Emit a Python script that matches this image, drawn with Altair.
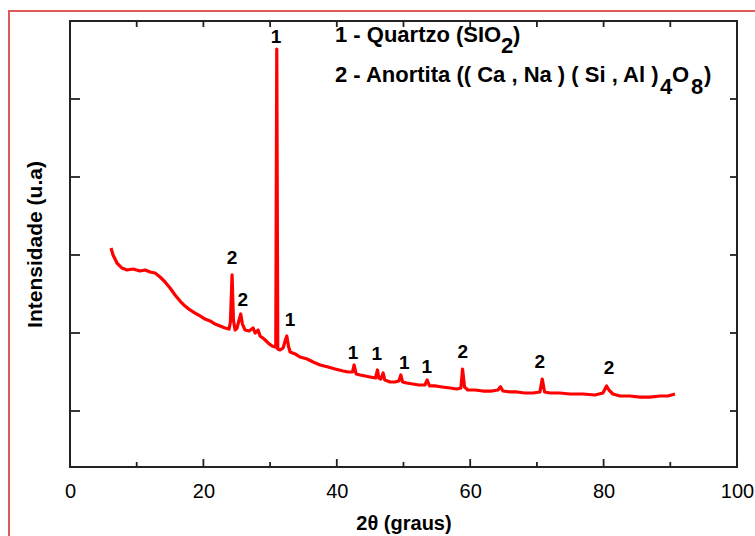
import altair as alt
import pandas as pd

FONT = "Liberation Sans"
RED = "#ff0000"
FRAME = "#222222"

# Difractograma: 2θ (graus) e intensidade (u.a)
two_theta = [
    6.15, 6.45, 7.05, 7.8, 8.55, 9.45, 10.5, 11.25, 12.0, 12.75,
    13.5, 14.25, 15.0, 15.75, 16.5, 17.25, 18.0, 18.75, 19.5, 20.25,
    21.0, 21.75, 22.5, 23.25, 23.85, 24.05, 24.3, 24.5, 24.75, 25.05,
    25.35, 25.6, 25.85, 26.25, 26.85, 27.45, 27.75, 28.2, 28.5, 29.1,
    29.7, 30.3, 30.75, 30.85, 31.0, 31.15, 31.5, 31.95, 32.3, 32.5,
    32.75, 33.0, 33.75, 34.5, 35.55, 36.45, 37.5, 38.7, 39.75, 40.95,
    41.7, 42.35, 42.6, 42.9, 43.5, 44.25, 45.0, 45.8, 46.1, 46.3,
    46.6, 46.95, 47.2, 48.0, 48.7, 49.3, 49.6, 49.85, 50.5, 51.4,
    52.3, 53.2, 53.55, 53.9, 54.7, 55.8, 57.0, 58.0, 58.6, 58.85,
    59.15, 59.65, 60.7, 61.9, 63.25, 64.15, 64.55, 64.9, 66.0, 67.0,
    68.2, 69.4, 70.45, 70.8, 71.15, 72.0, 73.45, 74.95, 76.9, 78.7,
    79.9, 80.45, 80.8, 81.4, 82.45, 83.95, 85.45, 86.95, 88.45, 89.65,
    90.7,
]
intensity = [
    3090, 3000, 2897, 2833, 2808, 2820, 2795, 2808, 2782, 2769,
    2718, 2654, 2577, 2487, 2410, 2346, 2295, 2256, 2218, 2179,
    2154, 2115, 2090, 2064, 2051, 2141, 2744, 2167, 2038, 2064,
    2167, 2244, 2115, 2038, 2026, 2064, 2000, 2038, 1962, 1923,
    1872, 1833, 1820, 1820, 5641, 1795, 1782, 1808, 1910, 1962,
    1833, 1756, 1731, 1692, 1667, 1628, 1590, 1564, 1538, 1513,
    1500, 1500, 1590, 1474, 1462, 1449, 1436, 1423, 1526, 1423,
    1410, 1487, 1397, 1372, 1372, 1385, 1462, 1372, 1359, 1346,
    1333, 1333, 1397, 1321, 1321, 1308, 1295, 1282, 1295, 1538,
    1308, 1269, 1269, 1256, 1256, 1269, 1312, 1256, 1244, 1244,
    1231, 1231, 1244, 1410, 1244, 1231, 1231, 1218, 1218, 1205,
    1231, 1321, 1269, 1218, 1192, 1192, 1179, 1179, 1192, 1192,
    1218,
]
assert len(two_theta) == len(intensity)

# Identificação das fases: 1 = quartzo, 2 = anortita
peak_label = ["1", "2", "2", "1", "1", "1", "1", "1", "2", "2", "2"]
peak_label_x = [30.9, 24.3, 25.9, 33.0, 42.45, 46.0, 50.1, 53.5, 58.9, 70.45, 80.8]
peak_label_y = [5795, 2961, 2423, 2167, 1744, 1731, 1615, 1564, 1756, 1628, 1551]

x_ticks_major = [0, 20, 40, 60, 80, 100]
x_ticks_minor = [10, 30, 50, 70, 90]
x_ticks_top = [10, 20, 30, 40, 50, 60, 70, 80, 90]
y_ticks = [1000, 2000, 3000, 4000, 5000]

W, H = 667, 446
x_scale = alt.Scale(domain=[0, 100], nice=False, zero=False)
y_scale = alt.Scale(domain=[282, 6000], nice=False, zero=False)

# One axis definition per channel, shared by every layer so they merge cleanly
x_axis = alt.Axis(
    values=x_ticks_major, tickSize=0, domain=False, grid=False,
    labelFontSize=20, labelPadding=14, labelFlush=False, labelOverlap=False,
    labelColor="black", labelFont=FONT,
    title="2θ (graus)", titleFontSize=20, titleFontWeight="bold",
    titleFont=FONT, titleColor="black", titlePadding=12,
)
y_axis = alt.Axis(
    labels=False, ticks=False, domain=False, grid=False,
    title="Intensidade (u.a)", titleFontSize=21, titleFontWeight="bold",
    titleFont=FONT, titleColor="black", titlePadding=25,
)

xrd = pd.DataFrame({"two_theta": two_theta, "intensity": intensity})
labels = pd.DataFrame({"two_theta": peak_label_x, "intensity": peak_label_y, "t": peak_label})
one = pd.DataFrame({"k": [0]})

border = alt.Chart(one).mark_rect(
    fillOpacity=0, stroke="#dd5a5a", strokeWidth=2
).encode(x=alt.value(-61), x2=alt.value(760), y=alt.value(-10), y2=alt.value(600))

curve = alt.Chart(xrd).mark_line(
    color=RED, strokeWidth=3.2, strokeJoin="round"
).encode(
    x=alt.X("two_theta:Q", scale=x_scale, axis=x_axis),
    y=alt.Y("intensity:Q", scale=y_scale, axis=y_axis),
)

tick_style = dict(color=FRAME, strokeWidth=1.8)

def x_rules(values, y0, y1):
    return alt.Chart(pd.DataFrame({"two_theta": values})).mark_rule(**tick_style).encode(
        x=alt.X("two_theta:Q", scale=x_scale, axis=x_axis),
        y=alt.value(y0), y2=alt.value(y1),
    )

def y_rules(values, x0, x1):
    return alt.Chart(pd.DataFrame({"intensity": values})).mark_rule(**tick_style).encode(
        y=alt.Y("intensity:Q", scale=y_scale, axis=y_axis),
        x=alt.value(x0), x2=alt.value(x1),
    )

ticks = [
    x_rules(x_ticks_major, H, H - 8),
    x_rules(x_ticks_minor, H, H - 5),
    x_rules(x_ticks_top, 0, 6),
    y_rules(y_ticks, 0, 10),
    y_rules(y_ticks, W, W - 7),
]

peak_text = alt.Chart(labels).mark_text(
    fontSize=19, fontWeight="bold", font=FONT, color="black",
    align="center", baseline="middle",
).encode(
    x=alt.X("two_theta:Q", scale=x_scale, axis=x_axis),
    y=alt.Y("intensity:Q", scale=y_scale, axis=y_axis),
    text="t:N",
)

def legend_piece(text, x, y):
    return alt.Chart(one).mark_text(
        text=text, fontSize=22, fontWeight="bold", font=FONT, color="black",
        align="left", baseline="alphabetic",
    ).encode(x=alt.value(x), y=alt.value(y))

legend = [
    legend_piece("1 - Quartzo (SIO", 265, 21),
    legend_piece("2", 431, 32),
    legend_piece(")", 443, 21),
    legend_piece("2 - Anortita (( Ca , Na ) ( Si , Al )", 265, 61),
    legend_piece("4", 590, 73),
    legend_piece("O", 602, 61),
    legend_piece("8", 621, 73),
    legend_piece(")", 634, 61),
]

chart = alt.layer(curve, border, *ticks, peak_text, *legend).properties(
    width=W, height=H,
    autosize=alt.AutoSizeParams(type="none"),
    padding={"left": 70, "top": 21, "right": 18, "bottom": 69},
    background="white",
).configure(
    font=FONT
).configure_view(
    stroke=FRAME, strokeWidth=2
)

chart.save("out.html", embed_options={"renderer": "svg", "actions": False})
